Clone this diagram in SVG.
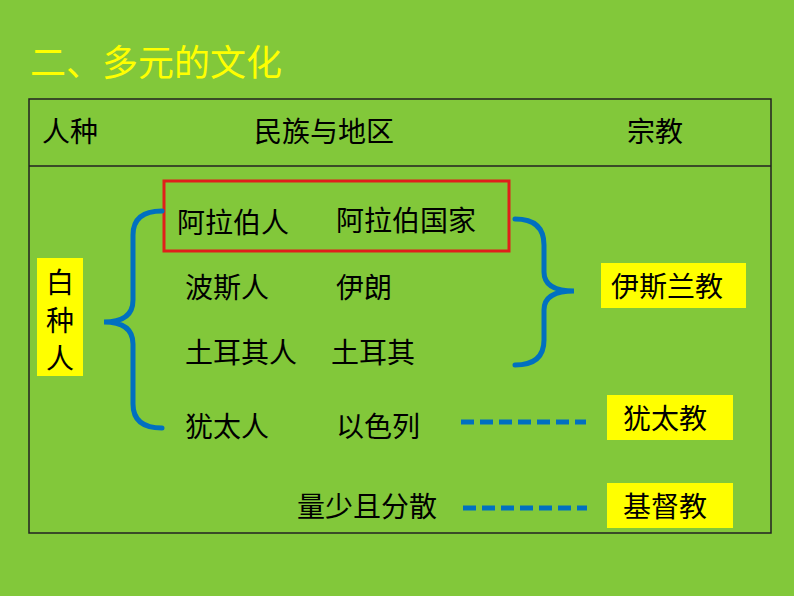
<svg xmlns="http://www.w3.org/2000/svg" width="794" height="596" viewBox="0 0 794 596">
<style>
text{font-family:"Noto Sans CJK SC","Noto Sans",sans-serif;font-size:28px;fill:#000}
.y{fill:#FFFF00}
.br{fill:none;stroke:#0070C0;stroke-width:5;stroke-linecap:round}
.d{stroke:#0070C0;stroke-width:5;stroke-dasharray:13,6}
</style>
<rect width="794" height="596" fill="#82C83A"/>
<text x="30" y="76" style="font-size:36px;fill:#FFFF00">二、多元的文化</text>
<g id="table" fill="none" stroke="#222" stroke-width="1.5">
<rect x="29" y="99" width="742" height="434"/>
<line x1="29" y1="166" x2="771" y2="166"/>
</g>
<text x="42" y="142">人种</text>
<text x="254" y="142">民族与地区</text>
<text x="627" y="142">宗教</text>
<g id="white">
<rect class="y" x="37" y="258" width="46" height="118"/>
<text x="46" y="293">白</text><text x="46" y="331">种</text><text x="46" y="369">人</text>
</g>
<g id="peoples">
<rect x="164" y="181" width="345" height="70" fill="none" stroke="#E0201B" stroke-width="3"/>
<text x="177" y="233">阿拉伯人</text><text x="336" y="231">阿拉伯国家</text>
<text x="185" y="298">波斯人</text><text x="336" y="298">伊朗</text>
<text x="185" y="363">土耳其人</text><text x="331" y="363">土耳其</text>
<text x="185" y="437">犹太人</text><text x="336" y="437">以色列</text>
<text x="297" y="517">量少且分散</text>
</g>
<g id="religions">
<rect class="y" x="601" y="263" width="145" height="45"/><text x="611" y="297">伊斯兰教</text>
<rect class="y" x="607" y="395" width="126" height="45"/><text x="623" y="429">犹太教</text>
<rect class="y" x="607" y="483" width="126" height="45"/><text x="623" y="517">基督教</text>
</g>
<g id="connectors">
<path class="br" d="M162,211 Q133,211 133,235 L133,300 Q133,322 104,322 Q133,322 133,344 L133,404 Q133,428 162,428"/>
<path class="br" d="M515,219 Q544,219 544,245 L544,272 Q544,291 574,291 Q544,291 544,310 L544,340 Q544,365 515,365"/>
<line class="d" x1="461" y1="422" x2="586" y2="422"/>
<line class="d" x1="463" y1="508" x2="587" y2="508"/>
</g>
</svg>
